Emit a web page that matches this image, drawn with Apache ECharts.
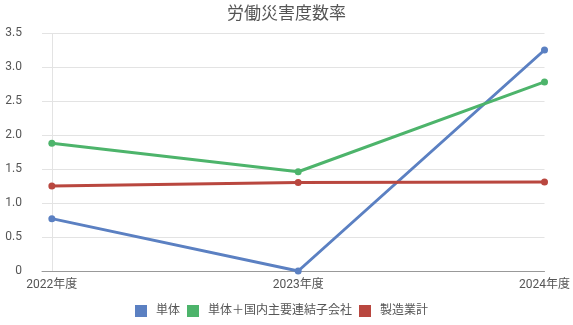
<!DOCTYPE html>
<html>
<head>
<meta charset="utf-8">
<script src="https://cdn.jsdelivr.net/npm/echarts@6/dist/echarts.min.js"></script>
<style>html,body{margin:0;padding:0;background:#fff}#c{width:573px;height:325px}</style>
</head>
<body>
<div id="c"></div>
<script>
const title = '労働災害度数率';
const categories = ['2022年度', '2023年度', '2024年度'];
const seriesNames = ['単体', '単体＋国内主要連結子会社', '製造業計'];
const tantai = [0.77, 0, 3.25];
const tantaiGroup = [1.88, 1.46, 2.78];
const seizogyo = [1.25, 1.30, 1.31];
const yTicks = [0, 0.5, 1, 1.5, 2, 2.5, 3, 3.5];
const colors = ['#5b80c2', '#4db46b', '#b9473f'];

const font = 'Roboto, "Noto Sans CJK JP", sans-serif';
function pts(arr){ return arr.map((v,i)=>[i, v]); }
function mk(name, data, color, extra){
  return Object.assign({
    name, type:'line', data: pts(data),
    symbol:'circle', symbolSize:7,
    lineStyle:{width:3, color}, itemStyle:{color},
    z: 3
  }, extra||{});
}
const chart = echarts.init(document.getElementById('c'));
chart.setOption({
  animation:false,
  title:{text:title, left:'center', top:1, textStyle:{fontFamily:font, fontSize:17, fontWeight:'normal', color:'#555'}},
  grid:{left:42, right:28, top:33, bottom:54, containLabel:false},
  legend:{
    bottom:3, left:130, itemWidth:12, itemHeight:12, itemGap:7,
    icon:'rect',
    textStyle:{fontFamily:font, fontSize:12, color:'#555', padding:[0,0,0,4]},
    data: seriesNames
  },
  xAxis:{
    type:'value', min:-0.04, max:2,
    axisLine:{show:true, lineStyle:{color:'#999', width:1}},
    axisTick:{show:false},
    splitLine:{show:false},
    axisLabel:{
      customValues:[0,1,2], showMinLabel:true, showMaxLabel:true,
      formatter:(v)=>categories[Math.round(v)] || '',
      fontFamily:font, fontSize:12, color:'#555', margin:8
    }
  },
  yAxis:{
    type:'value', min:0, max:3.5, interval:0.5,
    axisLine:{show:false}, axisTick:{show:false},
    splitLine:{lineStyle:{color:'#e3e3e3', width:1}},
    axisLabel:{
      formatter:(v)=> v===0 ? '0' : v.toFixed(1),
      fontFamily:font, fontSize:12, color:'#555', margin:20
    }
  },
  series:[
    mk(seriesNames[0], tantai, colors[0], {
      markLine:{silent:true, symbol:'none', label:{show:false},
        lineStyle:{color:'#e3e3e3', type:'solid', width:1},
        data:[{xAxis:0}], z:1}
    }),
    mk(seriesNames[1], tantaiGroup, colors[1]),
    mk(seriesNames[2], seizogyo, colors[2])
  ]
});
</script>
</body>
</html>
